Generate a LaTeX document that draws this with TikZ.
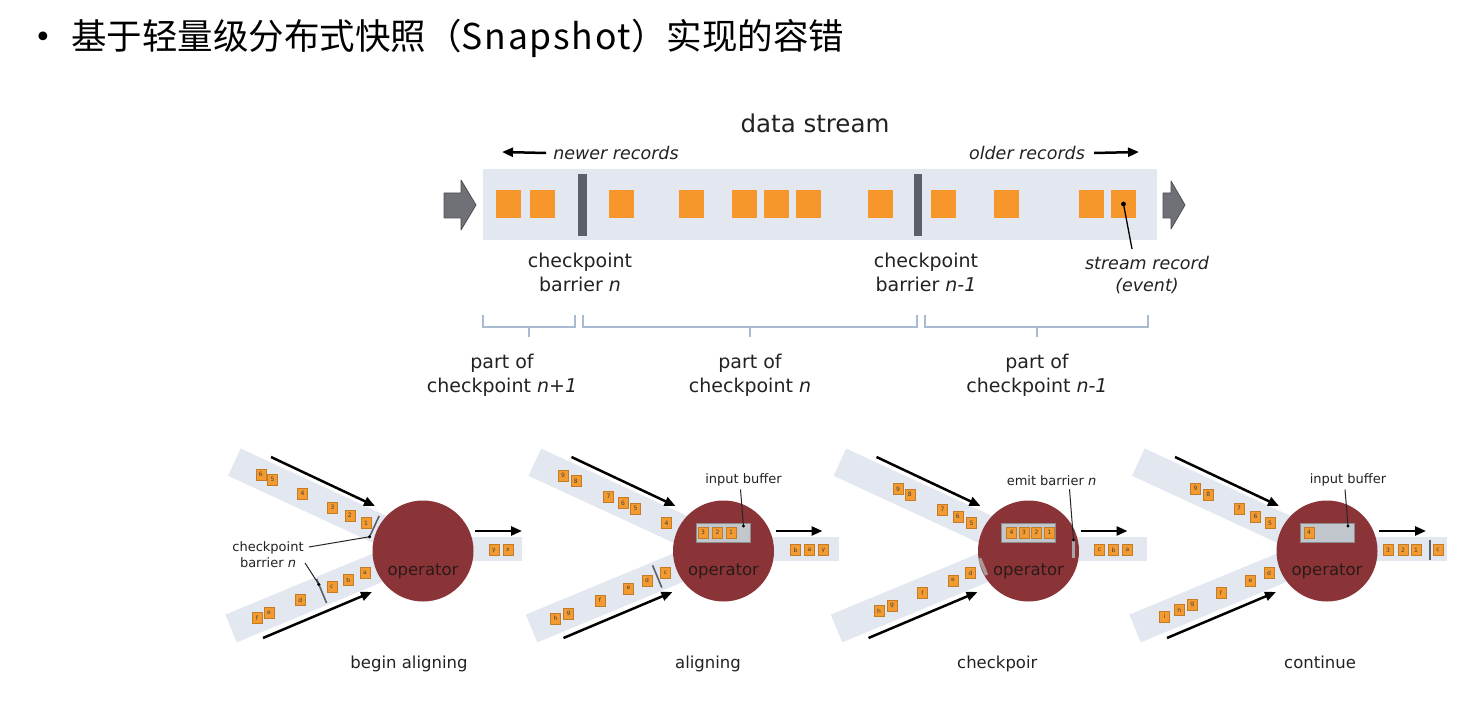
\documentclass[tikz,border=0pt]{standalone}
\usepackage{fontspec}
\setmainfont{DejaVu Sans}
\newfontfamily\cjkfont{Noto Sans CJK SC}
\usetikzlibrary{shapes.arrows,arrows.meta,calc}
\definecolor{bandc}{HTML}{E3E7F0}
\definecolor{recc}{HTML}{F7962B}
\definecolor{srecc}{HTML}{F39A30}
\definecolor{barc}{HTML}{5B6068}
\definecolor{opc}{HTML}{8B3438}
\definecolor{bufc}{HTML}{C2C6CD}
\definecolor{bracec}{HTML}{A9BBD3}
\definecolor{txt}{HTML}{222222}
\definecolor{arrg}{HTML}{707176}
\definecolor{optxc}{HTML}{2A1A1A}
\tikzset{
  toptxt/.style={font=\fontsize{19}{24}\selectfont, align=center, inner sep=0pt, text=txt},
  recbox/.style={fill=recc, minimum width=25, minimum height=28, inner sep=0pt},
  barrierbox/.style={fill=barc, minimum width=8.5, minimum height=62, inner sep=0pt},
  bracel/.style={draw=bracec, line width=1.2},
  arr/.style={line width=2.5, -{Triangle[length=11pt,width=9pt]}},
  garrowpath/.style={fill=arrg, draw=arrg!70!black, line width=0.8, line join=round},
  sband/.style={fill=bandc, minimum height=30, inner sep=0pt, transform shape},
  srec/.style={fill=srecc, draw=srecc!80!black, line width=0.3pt, minimum width=10,
    minimum height=11, inner sep=0pt, font=\fontsize{6}{6}\selectfont, text=black!75},
  sbar/.style={draw=barc, line width=1.6},
  opcircle/.style={circle, fill=opc, minimum size=101, inner sep=0pt},
  optxt/.style={font=\fontsize{16.5}{18}\selectfont, text=optxc, inner sep=0pt},
  bufbox/.style={fill=bufc, draw=black!45, line width=0.5, minimum width=54, minimum height=19, inner sep=0pt},
  smalltxt/.style={font=\fontsize{13}{16}\selectfont, align=center, inner sep=0pt, text=txt},
  ldr/.style={draw=black!85, line width=1},
  captxt/.style={font=\fontsize{16.5}{18}\selectfont, inner sep=0pt, text=txt},
}
\begin{document}
\begin{tikzpicture}[x=1pt,y=-1pt]
\useasboundingbox (0,0) rectangle (1457,708);
\fill[white] (0,0) rectangle (1457,708);

% title
\node[font=\fontsize{30}{32}\selectfont, text=black, inner sep=0pt] (bullet) at (43,40) {•};
\node[anchor=west, font=\cjkfont\fontsize{35.5}{40}\selectfont, text=black, inner sep=0pt] (title) at (71,38) {基于轻量级分布式快照（{\addfontfeatures{LetterSpace=5}Snapshot}）实现的容错};

% ---------------- data stream ----------------
\node[fill=bandc, minimum width=674, minimum height=71, inner sep=0pt] (band) at (820,204.5) {};
\path[garrowpath] (444,193) -- (461,193) -- (461,180) -- (476,205) -- (461,230) -- (461,218) -- (444,218) -- cycle;
\path[garrowpath] (1163,193) -- (1171,193) -- (1171,181) -- (1185,205) -- (1171,229) -- (1171,218) -- (1163,218) -- cycle;
\foreach \x [count=\k] in {508.5,542.5,621,691.5,744.5,776.5,808.5,880.5,943.5,1006,1091.5,1123.5}
  \node[recbox] (r\k) at (\x,204) {};
\node[barrierbox] (bn) at (582.5,205) {};
\node[barrierbox] (bnm) at (918,205) {};

\node[font=\fontsize{24.5}{28}\selectfont, text=txt, inner sep=0pt] (ds) at (815,123) {data stream};
\node[font=\fontsize{17.5}{20}\selectfont\itshape, text=txt, inner sep=0pt] (newer) at (616,153) {newer records};
\coordinate (newerend) at (502,152);
\draw[arr] ([xshift=-7]newer.west) -- (newerend);
\node[font=\fontsize{17.5}{20}\selectfont\itshape, text=txt, inner sep=0pt] (older) at (1027,153) {older records};
\coordinate (olderend) at (1139,152);
\draw[arr] ([xshift=9]older.east) -- (olderend);

\node[toptxt] (cbn) at (580,272) {checkpoint\\barrier \textit{n}};
\node[toptxt] (cbnm) at (926,272) {checkpoint\\barrier \textit{n-1}};
\node[toptxt, font=\fontsize{17.5}{22}\selectfont\itshape] (sr) at (1147,275) {stream record\\(event)};
\coordinate (srtop) at (1132,249);
\fill[black] (r12.center) circle (2.4);
\draw[line width=1.3] (r12.center) -- (srtop);

% braces
\draw[bracel] (483,315) -- (483,327) -- (575,327) -- (575,315) (529,327) -- (529,337);
\draw[bracel] (583,315) -- (583,327) -- (917,327) -- (917,315) (750,327) -- (750,337);
\draw[bracel] (925,315) -- (925,327) -- (1148,327) -- (1148,315) (1037,327) -- (1037,337);

\node[toptxt] (pc1) at (502,375) {part of\\checkpoint \textit{n+1}};
\node[toptxt] (pc2) at (750,375) {part of\\checkpoint \textit{n}};
\node[toptxt] (pc3) at (1037,375) {part of\\checkpoint \textit{n-1}};

% ---------------- panel 1 ----------------
\begin{scope}[shift={(423,551)}]
  \begin{scope}[shift={(-57,-28)}, rotate=-24.8]
    \node[sband, minimum width=190] (p1ub) at (-50,0) {};
    \foreach \u/\t [count=\k] in {0/1,-18/2,-37/3,-70/4,-103/5,-116/6}
      \node[srec] (p1u\k) at (\u,0) {\t};
    \draw[sbar] (9,-12) -- (9,12);
    \coordinate (p1ubar) at (9,11);
  \end{scope}
  \begin{scope}[shift={(-58,22)}, rotate=22.5]
    \node[sband, minimum width=190] (p1lb) at (-50,0) {};
    \foreach \u/\t [count=\k] in {0/a,-18/b,-36/c,-70/d,-104/e,-117/f}
      \node[srec] (p1l\k) at (\u,0) {\t};
    \draw[sbar] (-47,-13) -- (-47,13);
    \coordinate (p1lbar) at (-47,-7);
  \end{scope}
  \node[sband, minimum width=59, minimum height=24] (p1ob) at (69.5,-2) {};
  \foreach \x/\t [count=\k] in {71/y,85/x}
    \node[srec] (p1o\k) at (\x,-1) {\t};
  \node[opcircle] (p1op) at (0,0) {};
  \node[optxt] (p1opt) at (0,20) {operator};
  \coordinate (p1ua0) at (-152,-94); \coordinate (p1ua1) at (-48,-45);
  \coordinate (p1la0) at (-160,87);  \coordinate (p1la1) at (-51,41);
  \coordinate (p1oa0) at (52,-20);   \coordinate (p1oa1) at (99,-20);
  \draw[arr] (p1ua0) -- (p1ua1);
  \draw[arr] (p1la0) -- (p1la1);
  \draw[arr] (p1oa0) -- (p1oa1);
  \node[smalltxt] (p1cl) at (-155,4) {checkpoint\\barrier \textit{n}};
  \coordinate (p1cls1) at (-114,-4);
  \coordinate (p1cls2) at (-118,12);
  \draw[ldr] (p1cls1) -- (p1ubar);
  \draw[ldr] (p1cls2) -- (p1lbar);
  \fill[black] (p1ubar) circle (1.7);
  \fill[black] (p1lbar) circle (1.7);
  \node[captxt, anchor=base] (p1cap) at (-14,117) {begin aligning};
\end{scope}

% ---------------- panel 2 ----------------
\begin{scope}[shift={(723.5,551)}]
  \begin{scope}[shift={(-57,-28)}, rotate=-24.8]
    \node[sband, minimum width=190] (p2ub) at (-50,0) {};
    \foreach \u/\t [count=\k] in {0/4,-34/5,-48/6,-64/7,-100/8,-114/9}
      \node[srec] (p2u\k) at (\u,0) {\t};
  \end{scope}
  \begin{scope}[shift={(-58,22)}, rotate=22.5]
    \node[sband, minimum width=190] (p2lb) at (-50,0) {};
    \foreach \u/\t [count=\k] in {0/c,-20/d,-40/e,-71/f,-105/g,-119/h}
      \node[srec] (p2l\k) at (\u,0) {\t};
    \draw[sbar] (-9,-12) -- (-9,12);
  \end{scope}
  \node[sband, minimum width=75, minimum height=24] (p2ob) at (77.5,-2) {};
  \foreach \x/\t [count=\k] in {72/b,86/a,100/y}
    \node[srec] (p2o\k) at (\x,-1) {\t};
  \node[opcircle] (p2op) at (0,0) {};
  \node[optxt] (p2opt) at (0,20) {operator};
  \node[bufbox] (p2buf) at (0,-18.5) {};
  \foreach \x/\t [count=\k] in {-20.5/3,-6/2,7.5/1}
    \node[srec] (p2b\k) at (\x,-18.5) {\t};
  \coordinate (p2ua0) at (-152,-94); \coordinate (p2ua1) at (-48,-45);
  \coordinate (p2la0) at (-160,87);  \coordinate (p2la1) at (-51,41);
  \coordinate (p2oa0) at (52,-20);   \coordinate (p2oa1) at (99,-20);
  \draw[arr] (p2ua0) -- (p2ua1);
  \draw[arr] (p2la0) -- (p2la1);
  \draw[arr] (p2oa0) -- (p2oa1);
  \node[smalltxt] (p2bl) at (20,-71) {input buffer};
  \coordinate (p2bd) at (20,-25);
  \draw[ldr] ([xshift=-3,yshift=-3]p2bl.south) -- (p2bd);
  \fill[black] (p2bd) circle (1.7);
  \node[captxt, anchor=base] (p2cap) at (-15.5,117) {aligning};
\end{scope}

% ---------------- panel 3 ----------------
\begin{scope}[shift={(1028.5,551)}]
  \begin{scope}[shift={(-57,-28)}, rotate=-24.8]
    \node[sband, minimum width=190] (p3ub) at (-50,0) {};
    \foreach \u/\t [count=\k] in {0/5,-15/6,-32/7,-68/8,-81/9}
      \node[srec] (p3u\k) at (\u,0) {\t};
  \end{scope}
  \begin{scope}[shift={(-58,22)}, rotate=22.5]
    \node[sband, minimum width=190] (p3lb) at (-50,0) {};
    \foreach \u/\t [count=\k] in {0/d,-19/e,-52/f,-85/g,-99/h}
      \node[srec] (p3l\k) at (\u,0) {\t};
    \coordinate (p3lbA) at (14,-10);
    \coordinate (p3lbB) at (14,8);
  \end{scope}
  \node[sband, minimum width=78, minimum height=24] (p3ob) at (79,-2) {};
  \foreach \x/\t [count=\k] in {71/c,85/b,99/a}
    \node[srec] (p3o\k) at (\x,-1) {\t};
  \node[opcircle] (p3op) at (0,0) {};
  \node[optxt] (p3opt) at (0,20) {operator};
  \draw[draw=black!30, line width=3.5, opacity=0.8] (p3lbA) -- (p3lbB);
  \node[bufbox] (p3buf) at (0,-18.5) {};
  \foreach \x/\t [count=\k] in {-17/4,-4.5/3,8/2,21/1}
    \node[srec] (p3b\k) at (\x,-18.5) {\t};
  \draw[draw=black!35, line width=3.5] (45,-11) -- (45,7);
  \coordinate (p3ua0) at (-152,-94); \coordinate (p3ua1) at (-48,-45);
  \coordinate (p3la0) at (-160,87);  \coordinate (p3la1) at (-51,41);
  \coordinate (p3oa0) at (52,-20);   \coordinate (p3oa1) at (99,-20);
  \draw[arr] (p3ua0) -- (p3ua1);
  \draw[arr] (p3la0) -- (p3la1);
  \draw[arr] (p3oa0) -- (p3oa1);
  \node[smalltxt] (p3bl) at (23,-70) {emit barrier \textit{n}};
  \coordinate (p3bd) at (45,-11);
  \draw[ldr] ([xshift=18,yshift=-3]p3bl.south) -- (p3bd);
  \fill[black] (p3bd) circle (1.7);
  \node[captxt, anchor=base west] (p3cap) at (-71.5,117) {checkpoir};
\end{scope}

% ---------------- panel 4 ----------------
\begin{scope}[shift={(1327,551)}]
  \begin{scope}[shift={(-57,-28)}, rotate=-24.8]
    \node[sband, minimum width=190] (p4ub) at (-50,0) {};
    \foreach \u/\t [count=\k] in {0/5,-16/6,-34/7,-68/8,-82/9}
      \node[srec] (p4u\k) at (\u,0) {\t};
  \end{scope}
  \begin{scope}[shift={(-58,22)}, rotate=22.5]
    \node[sband, minimum width=190] (p4lb) at (-50,0) {};
    \foreach \u/\t [count=\k] in {0/d,-20/e,-52/f,-83/g,-97/h,-113/i}
      \node[srec] (p4l\k) at (\u,0) {\t};
  \end{scope}
  \node[sband, minimum width=80, minimum height=24] (p4ob) at (80,-2) {};
  \foreach \x/\t [count=\k] in {61/3,76/2,89/1,111/c}
    \node[srec] (p4o\k) at (\x,-1) {\t};
  \draw[sbar] (103,-11) -- (103,9);
  \node[opcircle] (p4op) at (0,0) {};
  \node[optxt] (p4opt) at (0,20) {operator};
  \node[bufbox] (p4buf) at (0,-18.5) {};
  \node[srec] (p4b1) at (-18,-18.5) {4};
  \coordinate (p4ua0) at (-152,-94); \coordinate (p4ua1) at (-48,-45);
  \coordinate (p4la0) at (-160,87);  \coordinate (p4la1) at (-51,41);
  \coordinate (p4oa0) at (52,-20);   \coordinate (p4oa1) at (99,-20);
  \draw[arr] (p4ua0) -- (p4ua1);
  \draw[arr] (p4la0) -- (p4la1);
  \draw[arr] (p4oa0) -- (p4oa1);
  \node[smalltxt] (p4bl) at (21,-71) {input buffer};
  \coordinate (p4bd) at (21,-25);
  \draw[ldr] ([xshift=-3,yshift=-3]p4bl.south) -- (p4bd);
  \fill[black] (p4bd) circle (1.7);
  \node[captxt, anchor=base west] (p4cap) at (-43,117) {continue};
\end{scope}
\end{tikzpicture}
\end{document}
